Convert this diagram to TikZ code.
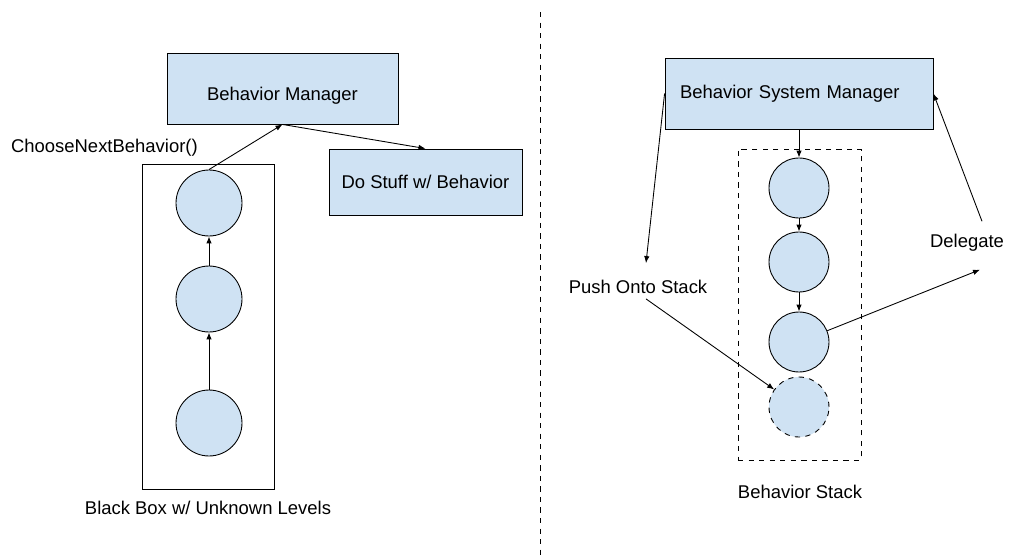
\documentclass[tikz,border=0pt]{standalone}
\usepackage{fontspec}
\setmainfont{Liberation Sans}
\usetikzlibrary{arrows.meta,positioning,calc}
\definecolor{ink}{HTML}{000000}
\definecolor{pale}{HTML}{CFE2F3}

\begin{document}
\begin{tikzpicture}[
  x=0.02cm, y=-0.02cm,
  font=\fontsize{10.5}{12}\selectfont, ink,
  mgr/.style={draw=ink, fill=pale, line width=0.5pt, inner sep=0pt},
  lvl/.style={circle, draw=ink, fill=pale, line width=0.5pt, inner sep=0pt},
  txt/.style={inner sep=1pt},
  fwd/.style={-{Latex[length=1.4mm, width=1.1mm]}, draw=ink, line width=0.5pt},
]
\useasboundingbox (0,0) rectangle (1029,558);

% ---- divider ---------------------------------------------------------------
\coordinate (topsplit) at (540,12);
\coordinate (botsplit) at (540,558);
\draw[dashed, line width=0.5pt] (topsplit) -- (botsplit);

% ---- left: black box --------------------------------------------------------
\node[draw=ink, line width=0.5pt, minimum width=2.64cm, minimum height=6.5cm]
  (box) at (208,326.5) {};
\node[mgr, minimum width=4.62cm, minimum height=1.42cm, text height=15.5pt,
  text depth=2.2pt] (bm) at (282.5,88.5) {Behavior Manager};
\node[mgr, minimum width=3.86cm, minimum height=1.32cm] (stuff) at (425.5,182)
  {Do Stuff w/ Behavior};
\node[lvl, minimum size=1.32cm] (l1) at (209,203) {};
\node[lvl, minimum size=1.32cm] (l2) at (209,299) {};
\node[lvl, minimum size=1.32cm] (l3) at (209,423) {};
\node[txt, anchor=west] (choose) at (9,148) {ChooseNextBehavior()};
\node[txt] (boxlbl) at (208,508) {Black Box w/ Unknown Levels};

\draw[fwd] (l3) -- (l2);
\draw[fwd] (l2) -- (l1);
\draw[fwd] (l1.north) -- (bm.south);
\draw[fwd] (bm.south) -- (stuff.north);

% ---- right: behavior stack --------------------------------------------------
\node[draw=ink, dashed, line width=0.5pt, minimum width=2.46cm, minimum height=6.22cm]
  (stack) at (799.5,304.5) {};
\node[mgr, minimum width=5.36cm, minimum height=1.42cm, text width=4.76cm, align=left]
  (bsm) at (799,93.5) {Behavior System Manager};
\node[lvl, minimum size=1.2cm] (s1) at (799,188) {};
\node[lvl, minimum size=1.2cm] (s2) at (799,262) {};
\node[lvl, minimum size=1.2cm] (s3) at (799,342) {};
\node[lvl, dashed, minimum size=1.2cm] (s4) at (799,407) {};
\node[txt] (push) at (638,287) {Push Onto Stack};
\node[txt] (deleg) at (967,243) {Delegate};
\node[txt] (stacklbl) at (800,492) {Behavior Stack};

\draw[fwd] (bsm.south) -- (s1);
\draw[fwd] (s1) -- (s2);
\draw[fwd] (s2) -- (s3);
\draw[fwd] (bsm.west) -- ($(push.north)+(8,-15)$);
\draw[fwd] ($(push.south)+(8,3)$) -- (s4);
\draw[fwd] (s3) -- ($(deleg.south)+(13,16)$);
\draw[fwd] ($(deleg.north)+(15,-11)$) -- (bsm.east);

\end{tikzpicture}
\end{document}
